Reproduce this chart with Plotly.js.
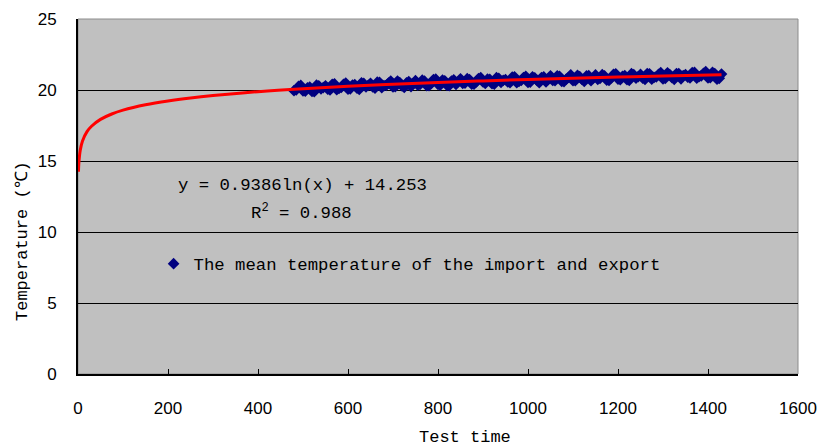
<!DOCTYPE html>
<html>
<head>
<meta charset="utf-8">
<script src="https://cdn.plot.ly/plotly-3.0.1.min.js"></script>
<style>html,body{margin:0;padding:0;background:#fff;}#chart{width:819px;height:448px;}</style>
</head>
<body>
<div id="chart"></div>
<script>
// Measured mean temperature (import/export) vs test time
const timeX = [480,490,500,510,520,530,540,550,560,570,580,590,600,610,620,630,640,650,660,670,680,690,700,710,720,730,740,750,760,770,780,790,800,810,820,830,840,850,860,870,880,890,900,910,920,930,940,950,960,970,980,990,1000,1010,1020,1030,1040,1050,1060,1070,1080,1090,1100,1110,1120,1130,1140,1150,1160,1170,1180,1190,1200,1210,1220,1230,1240,1250,1260,1270,1280,1290,1300,1310,1320,1330,1340,1350,1360,1370,1380,1390,1400,1410,1420,1430];
const meanTemp = [19.95,20.25,19.94,20.16,19.90,20.34,20.08,20.30,20.00,20.43,20.11,20.39,20.06,20.35,20.13,20.51,20.22,20.47,20.13,20.54,20.31,20.49,20.22,20.63,20.29,20.50,20.24,20.66,20.39,20.62,20.30,20.74,20.40,20.70,20.33,20.63,20.40,20.79,20.49,20.74,20.41,20.81,20.57,20.76,20.44,20.87,20.54,20.74,20.51,20.93,20.61,20.88,20.53,20.93,20.68,20.88,20.57,21.00,20.66,20.96,20.59,20.89,20.66,21.04,20.74,20.99,20.66,21.06,20.81,20.99,20.67,21.10,20.77,20.97,20.73,21.15,20.83,21.10,20.74,21.14,20.89,21.10,20.78,21.21,20.87,21.16,20.79,21.09,20.85,21.24,20.94,21.18,20.85,21.25,20.76,21.12];
const timeX2 = [485,495,505,515,525,535,545,555,565,575,585,595,605,615,625,635,645,655,665,675,685,695,705,715,725,735,745,755,765,775,785,795,805,815,825,835,845,855,865,875,885,895,905,915,925,935,945,955,965,975,985,995,1005,1015,1025,1035,1045,1055,1065,1075,1085,1095,1105,1115,1125,1135,1145,1155,1165,1175,1185,1195,1205,1215,1225,1235,1245,1255,1265,1275,1285,1295,1305,1315,1325,1335,1345,1355,1365,1375,1385,1395,1405,1415,1425];
const meanTemp2 = [20.01,20.32,19.92,20.21,19.88,20.30,20.17,20.06,20.40,20.02,20.18,20.49,20.08,20.38,20.04,20.46,20.32,20.22,20.55,20.17,20.33,20.63,20.23,20.52,20.18,20.60,20.46,20.35,20.69,20.30,20.46,20.76,20.35,20.65,20.31,20.72,20.58,20.47,20.80,20.41,20.57,20.87,20.46,20.75,20.41,20.82,20.68,20.57,20.90,20.51,20.67,20.97,20.56,20.85,20.51,20.92,20.78,20.67,21.00,20.61,20.76,21.06,20.65,20.94,20.60,21.01,20.86,20.75,21.08,20.69,20.85,21.14,20.73,21.02,20.68,21.08,20.94,20.83,21.16,20.76,20.92,21.22,20.81,21.09,20.75,21.16,21.01,20.90,21.23,20.83,20.99,21.29,20.87,21.16,20.82];
// Logarithmic trend line
const trendX = [1,2,5,10,20,30,50,75,100,150,200,250,300,400,500,600,700,800,900,1000,1100,1200,1300,1430];
const trendY = [14.25,14.90,15.76,16.41,17.07,17.45,17.93,18.31,18.58,18.96,19.23,19.44,19.61,19.88,20.09,20.26,20.40,20.53,20.64,20.74,20.83,20.91,20.98,21.07];
const xTicks = [0,200,400,600,800,1000,1200,1400,1600];
const yTicks = [0,5,10,15,20,25];
const seriesName = 'The mean temperature of the import and export';
const eqText = 'y = 0.9386ln(x) + 14.253';
const r2Text = 'R<sup>2</sup> = 0.988';
const xTitle = 'Test time';
const yTitle = 'Temperature (℃)';

const mono = 'Liberation Mono, DejaVu Sans Mono, monospace';
const sans = 'Liberation Sans, Arial, sans-serif';

const data = [
  {x: timeX.concat(timeX2), y: meanTemp.concat(meanTemp2), type: 'scatter', mode: 'markers', name: seriesName,
   marker: {symbol: 'diamond', size: 9, color: '#000080'}},
  {x: trendX, y: trendY, type: 'scatter', mode: 'lines', name: 'trend', showlegend: false,
   line: {color: '#FF0000', width: 3, shape: 'spline'}}
];

const layout = {
  width: 819, height: 448,
  margin: {l: 78, r: 21, t: 19, b: 74},
  paper_bgcolor: '#FFFFFF',
  plot_bgcolor: '#C0C0C0',
  showlegend: true,
  legend: {x: 0.105, y: 0.31, xanchor: 'left', yanchor: 'middle', bgcolor: 'rgba(0,0,0,0)',
           font: {family: mono, size: 17.3, color: '#000'}},
  xaxis: {range: [0, 1600], tickvals: xTicks, ticktext: xTicks.map(String),
          showgrid: false, zeroline: false, showline: true, linecolor: '#000', linewidth: 2,
          ticks: 'inside', ticklen: 5, tickcolor: '#000', ticklabelstandoff: 18,
          tickfont: {family: sans, size: 17, color: '#000'}},
  yaxis: {range: [0, 25], tickvals: yTicks, ticktext: yTicks.map(String),
          showgrid: true, gridcolor: '#000', gridwidth: 1, zeroline: false,
          showline: true, linecolor: '#000', linewidth: 2, ticks: '',
          ticklabelstandoff: 16,
          tickfont: {family: sans, size: 17, color: '#000'}},
  shapes: [{type: 'rect', xref: 'paper', yref: 'paper', x0: 0, x1: 1, y0: 0, y1: 1,
            line: {color: '#8c8c8c', width: 1}, layer: 'below'}],
  annotations: [
    {text: eqText, xref: 'paper', yref: 'paper', x: (302-78)/720, y: (374-185)/355,
     xanchor: 'center', yanchor: 'middle',
     showarrow: false, font: {family: mono, size: 17.3, color: '#000'}},
    {text: r2Text, xref: 'paper', yref: 'paper', x: (301-78)/720, y: (374-212)/355,
     xanchor: 'center', yanchor: 'middle',
     showarrow: false, font: {family: mono, size: 17.3, color: '#000'}},
    {text: xTitle, xref: 'paper', yref: 'paper', x: (465-78)/720, y: (374-437)/355,
     xanchor: 'center', yanchor: 'middle',
     showarrow: false, font: {family: mono, size: 17, color: '#000'}},
    {text: yTitle, xref: 'paper', yref: 'paper', x: (22-78)/720, y: (374-241)/355,
     xanchor: 'center', yanchor: 'middle',
     textangle: -90, showarrow: false, font: {family: mono, size: 17, color: '#000'}}
  ]
};

Plotly.newPlot('chart', data, layout, {displayModeBar: false, staticPlot: true});
</script>
</body>
</html>
